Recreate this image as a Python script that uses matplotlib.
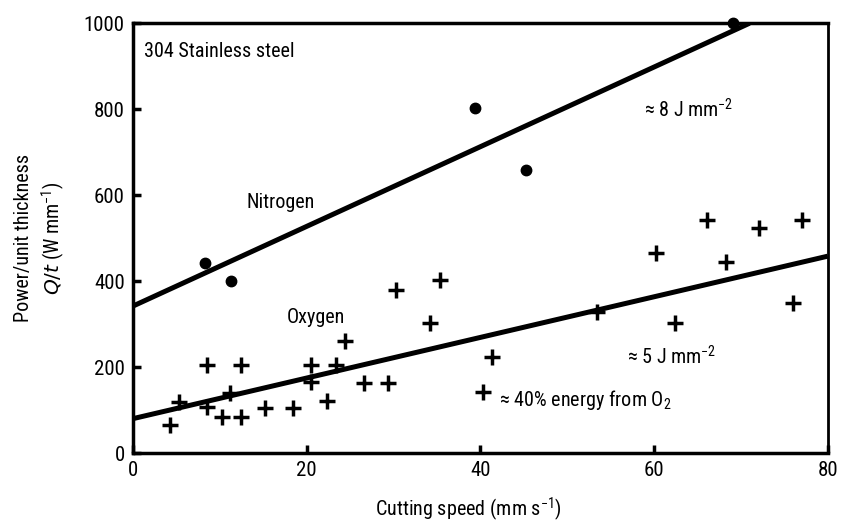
import matplotlib
matplotlib.use("Agg")
import matplotlib.pyplot as plt

plt.rcParams['font.family'] = ['Roboto Condensed', 'Liberation Sans', 'DejaVu Sans']
plt.rcParams['mathtext.default'] = 'regular'

# nitrogen (dots)
n2_speed = [8.3, 11.3, 39.4, 45.2, 69.1]
n2_power = [442, 400, 802, 658, 1000]

# oxygen (crosses)
o2_speed = [4.3, 5.3, 8.5, 8.5, 10.2, 11.2, 12.4, 12.4, 15.2, 18.4, 20.5, 20.5,
            22.3, 23.4, 24.4, 26.6, 29.4, 30.3, 34.2, 35.3, 41.3, 40.3,
            53.4, 60.2, 62.4, 66.1, 68.3, 72.1, 77.0, 76.0]
o2_power = [65, 119, 205, 108, 84, 139, 205, 84, 104, 104, 205, 166,
            121, 205, 260, 164, 164, 379, 303, 402, 224, 141,
            329, 466, 303, 543, 445, 524, 543, 348]

# fitted lines
n2_fit_x = [0, 71]
n2_fit_y = [342, 1000]
o2_fit_x = [0, 80]
o2_fit_y = [80, 458]

fs = 14.5

fig = plt.figure(figsize=(8.42, 5.28), dpi=100)
ax = fig.add_axes([0.158, 0.142, 0.825, 0.814])

ax.plot(n2_fit_x, n2_fit_y, color='black', lw=3.6, solid_capstyle='butt')
ax.plot(o2_fit_x, o2_fit_y, color='black', lw=3.6, solid_capstyle='butt')
ax.plot(n2_speed, n2_power, 'o', color='black', ms=7.5, clip_on=False)
ax.plot(o2_speed, o2_power, '+', color='black', ms=12, mew=2.5)

ax.set_xlim(0, 80)
ax.set_ylim(0, 1000)
ax.set_xticks([0, 20, 40, 60, 80])
ax.set_yticks([0, 200, 400, 600, 800, 1000])
ax.tick_params(direction='in', length=6, width=2.5, labelsize=15, pad=6)
for side in ['left', 'bottom', 'top']:
    ax.spines[side].set_linewidth(2.5)
ax.spines['right'].set_linewidth(2)

ax.set_xlabel('Cutting speed (mm s$^{-1}$)', fontsize=fs, labelpad=11)
ax.xaxis.label.set_x(0.482)
ax.set_ylabel('Power/unit thickness\n$\\mathit{Q/t}$ (W mm$^{-1}$)', fontsize=fs,
              labelpad=12, linespacing=1.3)

ax.text(1.3, 935, '304 Stainless steel', fontsize=fs, va='center')
ax.text(13.1, 583, 'Nitrogen', fontsize=fs, va='center')
ax.text(17.7, 316, 'Oxygen', fontsize=fs, va='center')
ax.text(58.9, 798, '≈ 8 J mm$^{-2}$', fontsize=fs, va='center')
ax.text(56.9, 223, '≈ 5 J mm$^{-2}$', fontsize=fs, va='center')
ax.text(42.2, 123, '≈ 40% energy from O$_2$', fontsize=fs, va='center')

fig.savefig('out.png', dpi=100)
